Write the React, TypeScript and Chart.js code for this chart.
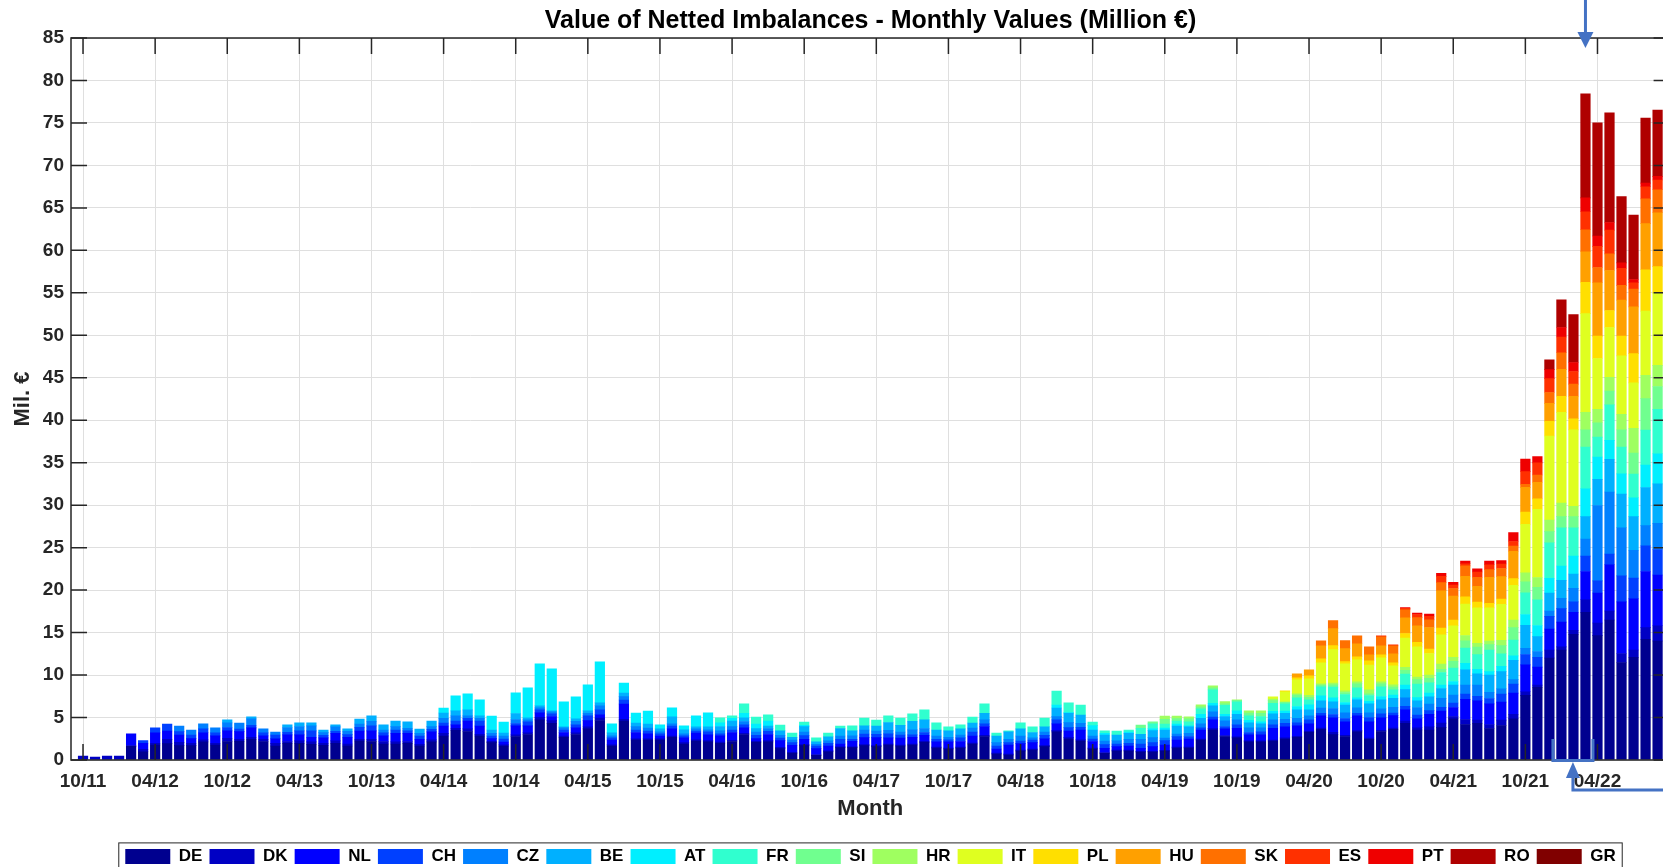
import React, { useEffect, useRef } from 'react';
import { Chart, registerables } from 'chart.js';

Chart.register(...registerables);

const TITLE = 'Value of Netted Imbalances - Monthly Values (Million €)';
const X_TITLE = 'Month';
const Y_TITLE = 'Mil. €';
const FIRST_YEAR = 2011;
const FIRST_MONTH = 10;
const N_MONTHS = 132;
const TICK_LABELS = ['10/11', '04/12', '10/12', '04/13', '10/13', '04/14', '10/14', '04/15', '10/15', '04/16', '10/16',
  '04/17', '10/17', '04/18', '10/18', '04/19', '10/19', '04/20', '10/20', '04/21', '10/21', '04/22'];
const Y_MIN = 0;
const Y_MAX = 85;
const Y_STEP = 5;

const NAMES = ['DE', 'DK', 'NL', 'CH', 'CZ', 'BE', 'AT', 'FR', 'SI', 'HR', 'IT', 'PL', 'HU', 'SK', 'ES', 'PT', 'RO', 'GR'];
const COLORS = ['#00008F', '#0000C4', '#0000FF', '#0040FF', '#0080FF', '#00B0FF', '#00EFFF', '#30FFCF', '#70FF8F',
  '#9FFF60', '#DFFF20', '#FFDF00', '#FFA000', '#FF7000', '#FF3000', '#EF0000', '#AF0000', '#800000'];

// month index of the first value in each series (0 = 10/11)
const STARTS = [4, 0, 4, 5, 8, 12, 30, 53, 88, 90, 99, 100, 101, 103, 108, 110, 122, 132];

const DE = [
  1.6, 0.98, 1.77, 1.93, 1.69, 1.69,
  2.13, 1.77, 2.17, 2.2, 2.44, 2.17, 1.65, 1.97, 1.97, 1.85,
  1.73, 1.97, 1.65, 2.24, 2.17, 1.89, 1.89, 1.97, 1.65, 2.13,
  2.83, 3.5, 3.35, 2.83, 2.05, 1.65, 2.76, 3.0, 4.72, 4.33,
  2.68, 3.0, 3.66, 4.65, 1.65, 4.6, 2.36, 2.36, 2.36, 2.68,
  1.89, 2.24, 2.13, 1.97, 2.17, 3.0, 2.09, 2.13, 1.34, 0.79,
  1.69, 0.55, 0.98, 1.46, 1.46, 1.69, 1.57, 1.77, 1.65, 1.77,
  2.09, 1.42, 1.3, 1.42, 1.89, 2.76, 0.71, 0.59, 1.06, 1.18,
  1.57, 3.31, 2.48, 2.24, 1.3, 0.79, 1.06, 1.06, 0.94, 0.94,
  1.06, 1.42, 1.42, 2.36, 3.54, 2.76, 2.6, 2.13, 2.13, 2.24,
  2.48, 2.68, 3.27, 3.62, 2.99, 2.76, 3.31, 2.44, 3.35, 3.62,
  4.33, 3.54, 3.54, 3.81, 4.86, 4.18, 4.33, 3.7, 4.07, 4.86,
  7.61, 8.56, 12.0, 12.95, 14.8, 17.39, 14.64, 16.49, 11.47, 12.1,
  14.22, 14.01,
];
const DK = [
  0.47, 0.35, 0.47, 0.47, 0.1, 0.28, 0.2, 0.5, 0.39, 0.28,
  0.24, 0.2, 0.39, 0.24, 0.24, 0.28, 0.31, 0.2, 0.28, 0.28,
  0.24, 0.28, 0.24, 0.2, 0.28, 0.28, 0.24, 0.2, 0.2, 0.24,
  0.31, 0.24, 0.31, 0.2, 0.15, 0.15, 0.2, 0.2, 0.3, 0.3,
  0.15, 0.2, 0.25, 0.3, 0.15, 0.2, 0.15, 0.15, 0.15, 0.15,
  0.15, 0.15, 0.15, 0.15, 0.15, 0.15, 0.12, 0.15, 0.15, 0.12,
  0.12, 0.1, 0.1, 0.1, 0.1, 0.12, 0.12, 0.12, 0.12, 0.12,
  0.12, 0.1, 0.1, 0.1, 0.12, 0.15, 0.1, 0.1, 0.1, 0.1,
  0.12, 0.15, 0.15, 0.15, 0.1, 0.1, 0.1, 0.1, 0.08, 0.08,
  0.08, 0.1, 0.1, 0.12, 0.15, 0.12, 0.12, 0.12, 0.12, 0.12,
  0.12, 0.12, 0.12, 0.15, 0.28, 0.15, 0.15, 0.15, 0.15, 0.15,
  0.26, 0.26, 0.37, 0.53, 0.26, 0.58, 0.37, 0.48, 0.63, 0.53,
  0.42, 0.26, 0.95, 0.37, 0.48, 1.48, 1.48, 1.06, 1.06, 0.85,
  1.37, 1.8,
];
const NL = [
  1.37, 0.71, 1.22, 0.98, 0.87, 0.55,
  0.83, 0.87, 0.87, 0.9, 1.1, 0.39, 0.55, 0.79, 0.71, 0.55,
  0.63, 0.9, 0.79, 0.98, 0.98, 0.67, 1.02, 0.98, 0.59, 0.94,
  0.87, 0.39, 0.94, 0.98, 0.32, 0.32, 1.06, 0.82, 0.53, 0.49,
  0.4, 0.59, 0.73, 0.37, 0.56, 1.8, 0.72, 0.56, 0.32, 0.83,
  0.56, 0.79, 0.68, 0.72, 0.91, 0.64, 0.31, 0.72, 0.79, 0.82,
  0.63, 0.69, 0.57, 0.33, 0.65, 0.82, 0.94, 0.71, 0.82, 0.79,
  0.71, 0.61, 0.73, 0.65, 0.82, 1.03, 0.49, 1.08, 0.77, 0.77,
  0.82, 0.79, 0.79, 1.15, 0.77, 0.49, 0.41, 0.49, 0.35, 0.55,
  0.63, 0.84, 0.96, 1.06, 1.03, 0.79, 1.02, 0.71, 0.71, 1.38,
  1.3, 1.22, 0.86, 1.42, 1.69, 1.58, 1.74, 1.9, 1.46, 1.46,
  1.32, 1.06, 1.48, 1.43, 1.06, 2.38, 2.27, 2.43, 2.11, 2.48,
  3.17, 2.11, 2.48, 2.91, 2.11, 3.33, 3.54, 5.44, 6.08, 6.03,
  6.61, 5.97,
];
const CH = [
  0.31, 0.59, 0.83, 0.39, 0.43,
  0.47, 0.35, 0.39, 0.31, 0.31, 0.35, 0.43, 0.31, 0.47, 0.75,
  0.31, 0.24, 0.31, 0.43, 0.59, 0.35, 0.39, 0.28, 0.39, 0.31,
  0.35, 0.47, 0.31, 0.59, 0.31, 0.35, 0.28, 0.47, 0.35, 0.31,
  0.31, 0.35, 0.55, 0.59, 0.24, 0.47, 0.31, 0.35, 0.24, 0.35,
  0.24, 0.24, 0.35, 0.24, 0.31, 0.35, 0.39, 0.39, 0.31, 0.31,
  0.43, 0.31, 0.31, 0.55, 0.24, 0.43, 0.39, 0.47, 0.35, 0.28,
  0.31, 0.31, 0.24, 0.43, 0.47, 0.31, 0.35, 0.28, 0.31, 0.31,
  0.39, 0.47, 0.39, 0.31, 0.31, 0.43, 0.31, 0.31, 0.51, 0.47,
  0.51, 0.39, 0.28, 0.24, 0.35, 0.28, 0.39, 0.28, 0.35, 0.39,
  0.43, 0.35, 0.47, 0.31, 0.39, 0.39, 0.31, 0.51, 0.47, 0.31,
  0.42, 0.42, 0.42, 0.42, 0.53, 0.63, 0.53, 0.63, 0.95, 1.06,
  1.22, 1.16, 1.48, 1.59, 1.22, 1.8, 1.43, 1.27, 3.07, 2.43,
  3.01, 3.01,
];
const CZ = [
  0.67, 0.59,
  0.59, 0.59, 0.55, 0.71, 0.75, 0.47, 0.35, 0.55, 0.51, 0.59,
  0.31, 0.51, 0.39, 0.39, 0.55, 0.35, 0.39, 0.31, 0.31, 0.31,
  0.55, 0.59, 0.28, 0.31, 0.31, 0.35, 0.47, 0.24, 0.24, 0.24,
  0.24, 0.43, 0.31, 0.47, 0.24, 0.39, 0.39, 0.35, 0.24, 0.24,
  0.24, 0.24, 0.24, 0.35, 0.39, 0.39, 0.39, 0.31, 0.31, 0.31,
  0.43, 0.2, 0.31, 0.39, 0.39, 0.47, 0.39, 0.43, 0.35, 0.59,
  0.47, 0.39, 0.31, 0.35, 0.47, 0.47, 0.39, 0.39, 0.59, 0.24,
  0.39, 0.39, 0.59, 0.47, 0.35, 0.43, 0.39, 0.47, 0.55, 0.59,
  0.31, 0.31, 0.39, 0.47, 0.59, 0.67, 0.59, 0.55, 0.47, 0.59,
  0.47, 0.55, 0.47, 0.63, 0.71, 0.67, 0.63, 0.55, 0.59, 0.67,
  1.0, 0.9, 0.79, 1.06, 0.95, 1.06, 1.32, 0.74, 0.63, 0.53,
  0.74, 0.69, 0.63, 1.22, 1.59, 2.01, 8.88, 7.29, 5.66, 3.28,
  2.38, 3.07,
];
const BE = [
  0.35, 0, 0.24, 0, 0, 0.31, 0.43, 0.35,
  0.31, 0.24, 0.28, 0.59, 0.63, 0.59, 0.67, 0.75, 0.51, 0.67,
  0.63, 0.59, 0.71, 0.28, 0.39, 0.35, 0.71, 0.24, 0.24, 0.12,
  0.12, 0.28, 0.28, 0.35, 0.35, 0.43, 0.43, 0.47, 0.35, 0.83,
  0.47, 0.24, 0.35, 0.51, 0.67, 0.43, 0.39, 0.31, 0.55, 0.31,
  0.63, 0.28, 0.47, 0.87, 0.59, 0.51, 0.59, 0.91, 0.79, 1.02,
  1.02, 0.71, 0.75, 0.71, 0.59, 0.79, 0.79, 0.87, 0.83, 0.63,
  0.63, 1.02, 1.1, 0.98, 0.71, 0.71, 0.67, 0.71, 0.59, 0.83,
  0.94, 0.94, 0.75, 0.67, 0.71, 0.51, 0.67, 0.59, 0.47, 0.71,
  0.71, 0.98, 0.71, 0.83, 0.79, 0.91, 0.94, 1.06, 1.06, 1.06,
  0.95, 0.79, 0.85, 1.16, 1.16, 1.8, 1.32, 2.01, 2.01, 2.27,
  2.7, 1.74, 2.11, 2.11, 1.69, 2.64, 3.07, 3.86, 3.96, 3.96,
  4.49, 4.65,
];
const AT = [
  0.59, 1.77, 1.89, 1.89, 1.65, 1.3, 2.44, 3.54, 4.96, 4.96,
  2.95, 2.6, 3.07, 4.84, 1.06, 1.18, 1.18, 1.53, 0.47, 1.06,
  0.47, 1.3, 1.65, 0.43, 0.31, 0.55, 0.55, 0.59, 0, 0,
  0.16, 0, 0, 0, 0, 0, 0, 0, 0, 0,
  0, 0, 0, 0, 0, 0, 0, 0, 0, 0,
  0, 0.35, 0.08, 0, 0.51, 0.2, 0, 0.16, 0, 0.24,
  0.24, 0.24, 0.12, 0.47, 0.31, 0.24, 0.39, 0.28, 0.24, 0.31,
  0.24, 0.39, 0.59, 0.59, 0.47, 0.31, 0.24, 0.31, 0.39, 0.39,
  0.53, 0.37, 0.42, 0.42, 0.42, 0.74, 0.53, 0.42, 0.63, 0.53,
  1.27, 1.32, 1.74, 1.69, 2.11, 3.28, 2.64, 2.22, 2.38, 2.22,
  2.64, 3.54,
];
const FR = [
  0.59, 0.28, 1.1, 0.83, 0.71, 0.67, 0.51,
  0.39, 0.47, 0.43, 0.31, 0.59, 0.91, 0.71, 0.79, 0.87, 0.87,
  1.18, 0.83, 0.47, 0.47, 0.71, 1.1, 0.35, 0.12, 0.71, 0.67,
  1.02, 1.65, 1.14, 1.18, 0.43, 0.28, 0.47, 0.24, 0.71, 0.55,
  0.47, 0.35, 0.47, 0.63, 1.57, 1.06, 1.06, 0.55, 0.63, 0.94,
  0.87, 1.02, 0.59, 1.06, 1.26, 0.94, 1.18, 0.67, 1.14, 0.59,
  1.32, 1.59, 1.22, 1.48, 1.59, 1.8, 1.74, 2.54, 1.48, 1.85,
  2.54, 3.01, 4.18, 4.49, 3.33, 4.92, 2.33, 4.18, 3.17, 2.8,
  4.12, 5.23,
];
const SI = [
  0.39, 0.24,
  0.55, 0.28, 0.35, 0.24, 0.24, 0.2, 0.2, 0.31, 0.39, 0.31,
  0.16, 0.35, 0.31, 0.2, 0.28, 0.24, 0.47, 0.2, 0.35, 0.35,
  0.42, 0.53, 0.53, 0.37, 0.79, 0.85, 0.9, 0.63, 0.95, 1.48,
  1.32, 1.48, 1.32, 1.32, 1.32, 2.01, 1.69, 1.64, 2.01, 2.48,
  3.7, 2.7,
];
const HR = [
  0.39, 0.31, 0.24, 0.24, 0.24, 0.24, 0.04, 0.28, 0.28, 0.2,
  0.08, 0.12, 0.24, 0.16, 0.2, 0.2, 0.24, 0.47, 0.24, 0.24,
  0.37, 0.32, 0.37, 0.63, 0.48, 0.63, 0.42, 0.42, 0.63, 0.9,
  1.06, 1.16, 1.37, 1.59, 1.22, 2.06, 1.59, 1.59, 1.85, 2.91,
  2.75, 2.48,
];
const IT = [
  0.24,
  1.18, 1.65, 1.93, 2.48, 3.94, 3.19, 2.6, 2.91, 2.83, 2.24,
  3.44, 3.54, 2.54, 3.44, 3.7, 3.7, 4.18, 3.91, 4.23, 4.07,
  5.71, 8.03, 9.88, 10.68, 8.99, 11.63, 5.97, 5.87, 6.87, 5.34,
  7.56, 8.51,
];
const PL = [
  0.12, 0.24, 0.35, 0.47, 0.47, 0.24, 0.35, 0.51, 0.35, 0.35,
  0.53, 0.53, 0.53, 0.79, 0.69, 0.85, 0.69, 0.53, 0.63, 0.79,
  1.43, 1.22, 1.74, 1.9, 1.32, 3.7, 2.64, 2.01, 2.33, 3.44,
  4.86, 3.12,
];
const HU = [
  0.47, 0.71, 1.53, 2.0, 1.53, 1.53, 0.71, 1.06, 1.06,
  1.85, 1.96, 2.54, 4.39, 2.8, 2.43, 1.85, 3.07, 2.64, 3.22,
  2.91, 1.96, 2.11, 3.17, 2.64, 3.59, 6.29, 4.7, 4.23, 5.5,
  5.44, 6.34,
];
const SK = [
  0.59, 0.94, 0.94, 0.94, 0.94, 1.06, 0.94,
  0.95, 0.95, 0.9, 0.95, 0.9, 1.22, 1.06, 0.9, 0.95, 0.63,
  0.37, 0.85, 1.27, 1.96, 1.43, 2.59, 1.8, 1.96, 1.74, 2.11,
  2.91, 2.7,
];
const ES = [
  0.12, 0.12,
  0.16, 0.37, 0.42, 0.74, 0.42, 0.26, 0.63, 0.58, 0.53, 0.53,
  1.48, 1.43, 1.64, 1.85, 1.48, 2.11, 2.48, 2.8, 2.01, 0.74,
  1.43, 1.16,
];
const PT = [
  0.11, 0.16, 0.26, 0.37, 0.32, 0.32, 0.37, 0.42, 0.42, 1.06,
  1.48, 0.74, 1.06, 1.11, 1.06, 1.64, 1.22, 0.9, 0.63, 0.37,
  0.42, 0.42,
];
const RO = [
  1.16, 3.28, 5.66, 12.26, 13.32, 12.9, 7.82, 7.61,
  7.66, 7.82,
];
const GR: number[] = [];

const VALUES = [DE, DK, NL, CH, CZ, BE, AT, FR, SI, HR, IT, PL, HU, SK, ES, PT, RO, GR];

const MONTHS = Array.from({ length: N_MONTHS }, (_, i) => {
  const m = ((FIRST_MONTH - 1 + i) % 12) + 1;
  const y = FIRST_YEAR + Math.floor((FIRST_MONTH - 1 + i) / 12);
  return `${String(m).padStart(2, '0')}/${String(y % 100).padStart(2, '0')}`;
});
// one empty slot before the first and after the last month (axis limits)
const CATEGORIES = ['', ...MONTHS, ''];

const FONT = "'Liberation Sans', Arial, Helvetica, sans-serif";
const AXIS_COLOR = '#262626';
const GRID_COLOR = '#DFDFDF';
const ARROW_COLOR = '#4472C4';

const W = 1741;
const H = 875;

function seriesData(start: number, values: number[]) {
  const out: (number | null)[] = new Array(CATEGORIES.length).fill(null);
  values.forEach((v, k) => {
    out[start + k + 1] = v === 0 ? null : v;
  });
  return out;
}

function isLabelTick(index: number) {
  const k = index - 1;
  return k >= 0 && k % 6 === 0 && k / 6 < TICK_LABELS.length;
}

const framePlugin = {
  id: 'framePlugin',
  afterDatasetsDraw(chart: any) {
    const { ctx, chartArea: a, scales } = chart;
    const x = scales.x;
    const y = scales.y;
    ctx.save();
    ctx.strokeStyle = AXIS_COLOR;
    ctx.lineWidth = 1.5;
    ctx.beginPath();
    for (let v = Y_MIN; v <= Y_MAX; v += Y_STEP) {
      const py = y.getPixelForValue(v);
      ctx.moveTo(a.left, py);
      ctx.lineTo(a.left + 16, py);
      ctx.moveTo(a.right, py);
      ctx.lineTo(a.right - 16, py);
    }
    x.ticks.forEach((_t: any, idx: number) => {
      if (!isLabelTick(idx)) return;
      const px = x.getPixelForTick(idx);
      ctx.moveTo(px, a.bottom);
      ctx.lineTo(px, a.bottom - 16);
      ctx.moveTo(px, a.top);
      ctx.lineTo(px, a.top + 16);
    });
    ctx.stroke();
    ctx.strokeRect(a.left, a.top, a.right - a.left, a.bottom - a.top);
    ctx.restore();
  },
  afterDraw(chart: any) {
    const { ctx, chartArea: a, scales, legend } = chart;
    const x = scales.x;
    ctx.save();
    // legend border
    const hb = legend && legend.legendHitBoxes;
    if (hb && hb.length) {
      const l = hb[0].left - 6.5;
      const last = hb[hb.length - 1];
      const r = last.left + last.width + 6.5;
      ctx.strokeStyle = AXIS_COLOR;
      ctx.lineWidth = 1;
      ctx.strokeRect(l, legend.top + 2, r - l, 60);
    }
    // annotation arrows
    ctx.strokeStyle = ARROW_COLOR;
    ctx.fillStyle = ARROW_COLOR;
    ctx.lineWidth = 3;
    ctx.lineJoin = 'miter';
    const peak = x.getPixelForValue(125 + 1);
    ctx.beginPath();
    ctx.moveTo(peak, 0);
    ctx.lineTo(peak, 34);
    ctx.stroke();
    ctx.beginPath();
    ctx.moveTo(peak - 8, 32);
    ctx.lineTo(peak + 8, 32);
    ctx.lineTo(peak, 48);
    ctx.closePath();
    ctx.fill();

    const bl = x.getPixelForValue(123 + 1) - 8.5;
    const br = x.getPixelForValue(125 + 1) + 7.5;
    ctx.beginPath();
    ctx.moveTo(bl, a.bottom - 21);
    ctx.lineTo(bl, a.bottom + 0.5);
    ctx.lineTo(br, a.bottom + 0.5);
    ctx.lineTo(br, a.bottom - 21);
    ctx.stroke();

    const xa = x.getPixelForValue(124 + 1) - 0.5;
    ctx.beginPath();
    ctx.moveTo(xa, a.bottom + 2);
    ctx.lineTo(xa - 7, a.bottom + 18);
    ctx.lineTo(xa + 7, a.bottom + 18);
    ctx.closePath();
    ctx.fill();
    ctx.beginPath();
    ctx.moveTo(xa, a.bottom + 16);
    ctx.lineTo(xa, a.bottom + 30);
    ctx.lineTo(chart.width + 5, a.bottom + 30);
    ctx.stroke();
    ctx.restore();
  },
};

export default function App() {
  const ref = useRef<HTMLCanvasElement | null>(null);

  useEffect(() => {
    if (!ref.current) return;
    const datasets = NAMES.map((name, s) => ({
      label: name,
      data: seriesData(STARTS[s], VALUES[s]),
      backgroundColor: COLORS[s],
      borderWidth: 0,
      barPercentage: 0.8,
      categoryPercentage: 1,
      inflateAmount: 0.3,
      stack: 'all',
    }));

    const chart = new Chart(ref.current, {
      type: 'bar',
      data: { labels: CATEGORIES, datasets },
      options: {
        responsive: false,
        animation: false,
        devicePixelRatio: 1,
        events: [],
        layout: { padding: 0 },
        plugins: {
          tooltip: { enabled: false },
          title: {
            display: true,
            text: TITLE,
            color: '#000000',
            font: { family: FONT, size: 25, weight: 'bold' },
            padding: { top: 6, bottom: 2 },
          },
          legend: {
            display: true,
            position: 'bottom',
            labels: {
              color: '#000000',
              font: { family: FONT, size: 17, weight: 'bold' },
              boxWidth: 45,
              boxHeight: 15,
              padding: 7.1,
            },
          },
        },
        scales: {
          x: {
            type: 'category',
            stacked: true,
            offset: false,
            grid: {
              offset: false,
              drawTicks: false,
              lineWidth: 1,
              color: (c: any) => (isLabelTick(c.index) ? GRID_COLOR : 'rgba(0,0,0,0)'),
            },
            border: { display: false },
            ticks: {
              autoSkip: false,
              maxRotation: 0,
              minRotation: 0,
              padding: 10.6,
              color: AXIS_COLOR,
              font: { family: FONT, size: 19, weight: 'bold' },
              callback: (_v: any, idx: number) => (isLabelTick(idx) ? TICK_LABELS[(idx - 1) / 6] : ''),
            },
            title: {
              display: true,
              text: X_TITLE,
              color: AXIS_COLOR,
              font: { family: FONT, size: 22, weight: 'bold' },
              padding: { top: 0, bottom: 18.7 },
            },
            afterFit: (s: any) => {
              s.height = 80.9;
            },
          },
          y: {
            type: 'linear',
            position: 'left',
            stacked: true,
            min: Y_MIN,
            max: Y_MAX,
            grid: { color: GRID_COLOR, lineWidth: 1, drawTicks: false },
            border: { display: false },
            ticks: {
              stepSize: Y_STEP,
              padding: 7,
              color: AXIS_COLOR,
              font: { family: FONT, size: 19, weight: 'bold' },
            },
            title: {
              display: true,
              text: Y_TITLE,
              color: AXIS_COLOR,
              font: { family: FONT, size: 22, weight: 'bold' },
              padding: { top: 9.8, bottom: 0 },
            },
            afterFit: (s: any) => {
              s.width = 71;
            },
          },
          yR: {
            type: 'linear',
            position: 'right',
            display: true,
            grid: { display: false, drawTicks: false },
            border: { display: false },
            ticks: { display: false },
            afterFit: (s: any) => {
              s.width = 71.4;
            },
          },
        },
      },
      plugins: [framePlugin],
    } as any);

    return () => chart.destroy();
  }, []);

  return (
    <div
      style={{
        position: 'fixed',
        left: 0,
        top: 0,
        width: 1663,
        height: 867,
        overflow: 'hidden',
        background: '#ffffff',
      }}
    >
      <canvas ref={ref} width={W} height={H} style={{ width: W, height: H, display: 'block' }} />
    </div>
  );
}
